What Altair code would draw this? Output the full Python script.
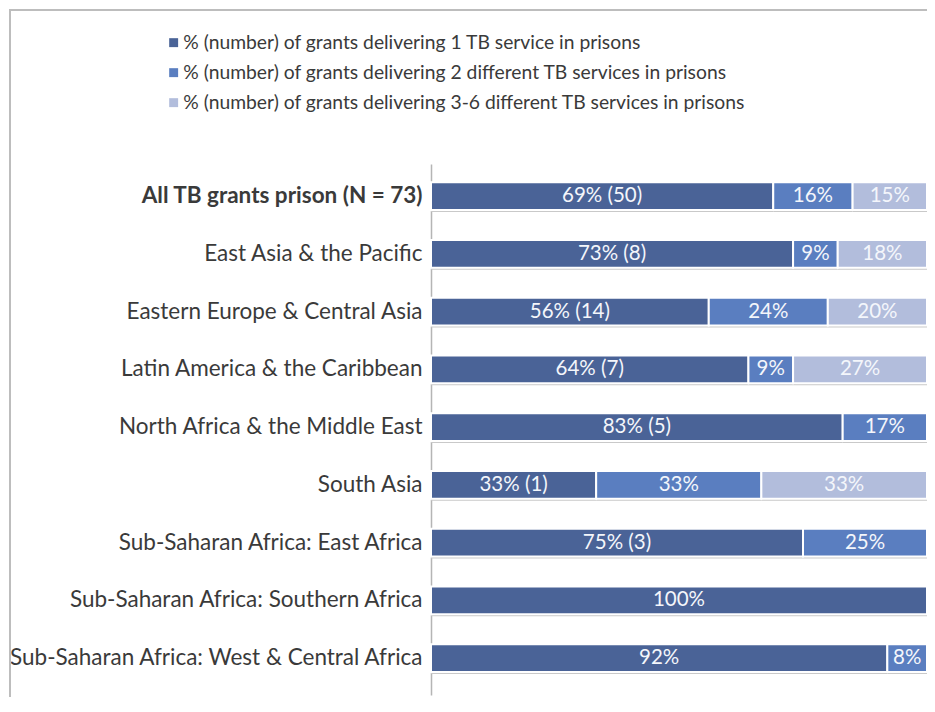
import altair as alt
import pandas as pd

regions = [
    "All TB grants prison (N = 73)",
    "East Asia & the Pacific",
    "Eastern Europe & Central Asia",
    "Latin America & the Caribbean",
    "North Africa & the Middle East",
    "South Asia",
    "Sub-Saharan Africa: East Africa",
    "Sub-Saharan Africa: Southern Africa",
    "Sub-Saharan Africa: West & Central  Africa",
]
series = [
    "% (number) of grants delivering 1 TB service in prisons",
    "% (number) of grants delivering 2 different TB services in prisons",
    "% (number) of grants delivering 3-6 different TB services in prisons",
]
one_service = [69, 73, 56, 64, 83, 33.3, 75, 100, 92]
two_services = [16, 9, 24, 9, 17, 33.3, 25, 0, 8]
three_plus = [15, 18, 20, 27, 0, 33.4, 0, 0, 0]
one_labels = ["69% (50)", "73% (8)", "56% (14)", "64% (7)", "83% (5)", "33% (1)", "75% (3)", "100%", "92%"]
two_labels = ["16%", "9%", "24%", "9%", "17%", "33%", "25%", "", "8%"]
three_labels = ["15%", "18%", "20%", "27%", "", "33%", "", "", ""]
colors = ["#4a6397", "#5a7ec0", "#b2bddc"]

rows = []
for i, r in enumerate(regions):
    start = 0.0
    for s, vals, labs in zip(series, [one_service, two_services, three_plus],
                             [one_labels, two_labels, three_labels]):
        v = vals[i]
        if v > 0:
            rows.append({"region": r, "series": s, "start": start, "end": start + v,
                         "mid": start + v / 2, "label": labs[i]})
        start += v
df = pd.DataFrame(rows)

FONT = "Lato, sans-serif"

y_enc = alt.Y(
    "region:N", sort=regions,
    scale=alt.Scale(paddingInner=0.52, paddingOuter=0.3575, align=0.44),
    axis=alt.Axis(
        title=None, ticks=False, domainColor="#b5b5b5", domainWidth=1.5,
        labelFontSize=22.5, labelColor="#3a3a3a", labelFont=FONT, labelPadding=9,
        labelLimit=0,
        labelFontWeight={"condition": {"test": "datum.value == 'All TB grants prison (N = 73)'", "value": "bold"}, "value": "normal"},
    ),
)
x_scale = alt.Scale(domain=[0, 100], nice=False, zero=True)

frame = alt.Chart(pd.DataFrame({"f": [0]})).mark_rect(
    fill=None, stroke="#bdbdbd", strokeWidth=2
).encode(
    x=alt.value(-421), x2=alt.value(540), y=alt.value(-154), y2=alt.value(560)
)

shadow = alt.Chart(df).mark_bar(color="#c9c9c9", yOffset=2).encode(
    y=alt.Y("region:N", sort=regions),
    x=alt.X("start:Q", scale=x_scale, axis=None),
    x2="end:Q",
)

bars = alt.Chart(df).mark_bar(stroke="white", strokeWidth=2).encode(
    y=y_enc,
    x=alt.X("start:Q", scale=x_scale, axis=None),
    x2="end:Q",
    color=alt.Color(
        "series:N", sort=series,
        scale=alt.Scale(domain=series, range=colors),
        legend=alt.Legend(
            title=None, orient="none", legendX=-267, legendY=-131,
            symbolType="square", symbolSize=80, symbolStrokeWidth=0,
            labelFontSize=19.3, labelFont=FONT, labelColor="#3a3a3a",
            rowPadding=10, labelLimit=0, labelOffset=0,
        ),
    ),
)

texts = alt.Chart(df).mark_text(color="#f4f6fb", fontSize=20.5, font=FONT).encode(
    y=alt.Y("region:N", sort=regions),
    x=alt.X("mid:Q", scale=x_scale),
    text="label:N",
)

chart = alt.layer(frame, shadow, bars, texts).properties(
    width=496, height=531,
    autosize=alt.AutoSizeParams(type="none"),
    padding={"left": 423, "top": 156, "right": 0, "bottom": 2},
).configure_view(stroke=None)

chart.save("out.html", embed_options={"renderer": "svg", "actions": False})
